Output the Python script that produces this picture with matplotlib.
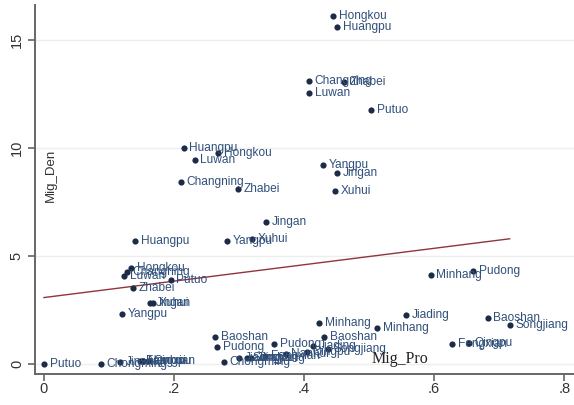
import numpy as np
import matplotlib
matplotlib.use("Agg")
import matplotlib.pyplot as plt

# district-level observations: migrant share vs. migrant density
district = ["Hongkou", "Huangpu", "Changning", "Zhabei", "Luwan", "Putuo",
            "Yangpu", "Jingan", "Xuhui",
            "Huangpu", "Hongkou", "Luwan", "Changning", "Zhabei", "Jingan",
            "Yangpu", "Xuhui", "Putuo",
            "Huangpu", "Hongkou", "Changning", "Luwan", "Zhabei", "Jingan",
            "Xuhui", "Yangpu", "Putuo",
            "Minhang", "Pudong", "Jiading", "Baoshan", "Songjiang", "Fengxian",
            "Qingpu",
            "Minhang", "Minhang", "Baoshan", "Pudong", "Jiading", "Songjiang",
            "Qingpu", "Nanhui", "Fengxian", "Jinshan", "Chongming",
            "Baoshan", "Pudong", "Jiading", "Songjiang", "Qingpu", "Nanhui",
            "Fengxian", "Jinshan", "Chongming"]
mig_pro = [0.445, 0.451, 0.408, 0.462, 0.408, 0.503, 0.429, 0.451, 0.448,
           0.215, 0.268, 0.232, 0.211, 0.298, 0.341, 0.281, 0.320, 0.195,
           0.140, 0.134, 0.128, 0.123, 0.137, 0.163, 0.168, 0.120, 0.000,
           0.595, 0.660, 0.557, 0.682, 0.716, 0.628, 0.654,
           0.423, 0.512, 0.431, 0.354, 0.414, 0.437, 0.405, 0.372, 0.340, 0.318, 0.277,
           0.263, 0.266, 0.300, 0.312, 0.160, 0.152, 0.148, 0.117, 0.088]
mig_den = [16.10, 15.60, 13.10, 13.05, 12.55, 11.76, 9.20, 8.84, 8.00,
           10.00, 9.77, 9.44, 8.43, 8.10, 6.57, 5.69, 5.79, 3.89,
           5.69, 4.44, 4.25, 4.07, 3.50, 2.82, 2.82, 2.30, 0.00,
           4.12, 4.30, 2.27, 2.12, 1.81, 0.93, 0.97,
           1.90, 1.67, 1.25, 0.92, 0.83, 0.69, 0.55, 0.45, 0.38, 0.30, 0.10,
           1.24, 0.80, 0.28, 0.30, 0.14, 0.12, 0.12, 0.09, 0.00]

# linear fit endpoints
fit_x = [0.0, 0.716]
fit_y = [3.08, 5.80]

dot_color = "#1c2c46"
text_color = "#30507a"
fit_color = "#90353b"

fig = plt.figure(figsize=(5.74, 4.05), dpi=100, facecolor="w")
ax = fig.add_axes([0.061, 0.0765, 0.939, 0.911])

ax.plot(fit_x, fit_y, color=fit_color, lw=1.0, zorder=2)
ax.scatter(mig_pro, mig_den, s=20, color=dot_color, zorder=3, linewidths=0)
for name, x, y in zip(district, mig_pro, mig_den):
    ax.annotate(name, (x, y), xytext=(4, 0), textcoords="offset points",
                va="center", ha="left", fontsize=8.6, color=text_color,
                family="Liberation Sans", zorder=4)

ax.set_xlim(-0.0138, 0.815)
ax.set_ylim(-0.46, 16.62)
ax.set_xticks([0, 0.2, 0.4, 0.6, 0.8])
ax.set_xticklabels(["0", ".2", ".4", ".6", ".8"])
ax.set_yticks([0, 5, 10, 15])
ax.set_yticklabels(["0", "5", "10", "15"], rotation=90, va="center")
for lab in ax.get_xticklabels() + ax.get_yticklabels():
    lab.set_family("Liberation Sans")
    lab.set_fontsize(10.5)
    lab.set_color("#333333")
ax.tick_params(axis="both", direction="out", length=5, width=1.2, color="#666666")
ax.tick_params(axis="x", pad=1)
ax.tick_params(axis="y", pad=3)

for side in ["top", "right"]:
    ax.spines[side].set_visible(False)
for side in ["left", "bottom"]:
    ax.spines[side].set_color("#666666")
    ax.spines[side].set_linewidth(1.4)

ax.grid(axis="y", color="#eeeeee", lw=1.0)
ax.set_axisbelow(True)

# axis titles drawn inside the plot region
ax.text(0.548, -0.14, "Mig_Pro", fontsize=11.5, family="Liberation Serif",
        ha="center", va="bottom", color="#222222")
ax.text(0.001, 8.75, "Mig_Den", fontsize=9.5, family="Liberation Sans",
        rotation=90, ha="left", va="center", color="#333333")

fig.savefig("out.png", dpi=100, facecolor="w")
